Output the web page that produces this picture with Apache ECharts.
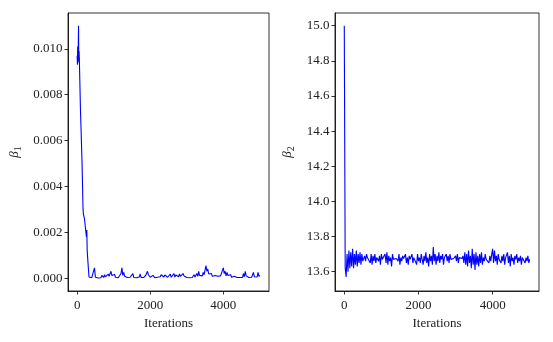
<!DOCTYPE html>
<html>
<head>
<meta charset="utf-8">
<script src="https://cdn.jsdelivr.net/npm/echarts@6/dist/echarts.min.js"></script>
<style>
  html, body { margin: 0; padding: 0; background: #fff; }
  #main { width: 553px; height: 342px; }
</style>
</head>
<body>
<div id="main"></div>
<script>
// x ticks shared by both panels
var xTicks = [0, 2000, 4000];

// beta_1 : burn-in part (irregular iterations) + regular tail
var burnIters1 = [0, 8, 15, 22, 30, 38, 45, 52, 60, 90, 135, 160, 170, 200, 240, 255, 265, 275, 300, 325];
var burnBeta1 = [0.0097, 0.0093, 0.0101, 0.0095, 0.0100, 0.0110, 0.0094, 0.0099, 0.0096, 0.0074, 0.0050, 0.0031, 0.0028, 0.0026, 0.0020, 0.0018, 0.0021, 0.0012, 0.0006, 0.00005];
var tailStart1 = 350, tailStep1 = 25;
var tailBeta1 = [
  0.00003, 0.00012, 0.00002, 0.00005, 0.00010, 0.00045,
  0.00004, 0.00002, 0.00006, 0.00001, 0.00003, 0.00008, 0.00002, 0.00012, 0.00005, 0.00003, 0.00015, 0.00006, 0.00010, 0.00004, 0.00018, 0.00008, 0.00013, 0.00030, 0.00012, 0.00020,
  0.00008, 0.00016, 0.00004, 0.00006, 0.00003, 0.00002, 0.00005, 0.00010, 0.00020, 0.00045, 0.00012, 0.00025, 0.00008, 0.00015, 0.00004, 0.00003, 0.00006, 0.00002, 0.00004, 0.00003,
  0.00002, 0.00020, 0.00003, 0.00002, 0.00004, 0.00002, 0.00003, 0.00002, 0.00005, 0.00018, 0.00003, 0.00002, 0.00004, 0.00003, 0.00008, 0.00012, 0.00006, 0.00030, 0.00015, 0.00010,
  0.00004, 0.00008, 0.00003, 0.00012, 0.00005, 0.00002, 0.00006, 0.00010, 0.00004, 0.00008, 0.00012, 0.00006, 0.00015, 0.00008, 0.00010, 0.00005, 0.00014, 0.00007, 0.00012, 0.00004,
  0.00010, 0.00006, 0.00018, 0.00004, 0.00012, 0.00008, 0.00020, 0.00005, 0.00014, 0.00010, 0.00022, 0.00006, 0.00018, 0.00008, 0.00015, 0.00005, 0.00020, 0.00010, 0.00016, 0.00004,
  0.00003, 0.00002, 0.00004, 0.00002, 0.00003, 0.00002, 0.00003, 0.00006, 0.00015, 0.00005, 0.00010, 0.00020, 0.00008, 0.00030, 0.00012, 0.00006, 0.00018, 0.00010, 0.00025, 0.00015,
  0.00035, 0.00055, 0.00030, 0.00040, 0.00018, 0.00025, 0.00010, 0.00020, 0.00008, 0.00015, 0.00005, 0.00012, 0.00006, 0.00020, 0.00008, 0.00014, 0.00004, 0.00010, 0.00006, 0.00015,
  0.00045, 0.00020, 0.00030, 0.00010, 0.00025, 0.00012, 0.00018, 0.00006, 0.00015, 0.00004, 0.00010, 0.00003, 0.00008, 0.00002, 0.00004, 0.00003, 0.00002, 0.00004, 0.00003, 0.00002,
  0.00008, 0.00003, 0.00020, 0.00006, 0.00030, 0.00010, 0.00004, 0.00012, 0.00003, 0.00005, 0.00002, 0.00004, 0.00010, 0.00025, 0.00006, 0.00003, 0.00012, 0.00005, 0.00025, 0.00008,
  0.00012
];
var yTicks1 = [0, 0.002, 0.004, 0.006, 0.008, 0.010];

// beta_2
var burnIters2 = [0, 25];
var burnBeta2 = [15.0, 13.62];
var tailStart2 = 50, tailStep2 = 25;
var tailBeta2 = [
  13.57, 13.70, 13.60, 13.72, 13.62, 13.71, 13.63, 13.73, 13.62, 13.70, 13.64, 13.72, 13.63, 13.70, 13.65, 13.71, 13.64, 13.70, 13.66,
  13.67, 13.69, 13.66, 13.70, 13.68, 13.67, 13.68, 13.65, 13.70, 13.64, 13.69, 13.66, 13.70, 13.65, 13.68, 13.67, 13.66, 13.69, 13.64, 13.70,
  13.67, 13.68, 13.67, 13.70, 13.65, 13.71, 13.64, 13.69, 13.66, 13.68, 13.63, 13.70, 13.67, 13.68, 13.675, 13.675, 13.68, 13.66, 13.70, 13.64,
  13.68, 13.66, 13.69, 13.675, 13.675, 13.70, 13.65, 13.68, 13.64, 13.69, 13.67, 13.66, 13.70, 13.65, 13.68, 13.67, 13.69, 13.64, 13.70, 13.66,
  13.68, 13.65, 13.70, 13.67, 13.64, 13.69, 13.66, 13.71, 13.65, 13.68, 13.63, 13.70, 13.66, 13.69, 13.64, 13.74, 13.66, 13.70, 13.64, 13.69,
  13.66, 13.71, 13.65, 13.69, 13.67, 13.70, 13.64, 13.68, 13.675, 13.70, 13.66, 13.69, 13.65, 13.70, 13.67, 13.68, 13.675, 13.675, 13.67, 13.69,
  13.66, 13.70, 13.65, 13.68, 13.67, 13.675, 13.675, 13.69, 13.65, 13.71, 13.64, 13.70, 13.63, 13.72, 13.65, 13.69, 13.62, 13.73, 13.64, 13.70,
  13.61, 13.71, 13.64, 13.69, 13.63, 13.70, 13.65, 13.71, 13.64, 13.68, 13.66, 13.70, 13.67, 13.675, 13.68, 13.65, 13.69, 13.66, 13.70, 13.73,
  13.65, 13.72, 13.66, 13.69, 13.64, 13.70, 13.67, 13.68, 13.65, 13.69, 13.66, 13.70, 13.64, 13.68, 13.67, 13.71, 13.65, 13.69, 13.63, 13.70,
  13.66, 13.68, 13.64, 13.69, 13.67, 13.70, 13.65, 13.68, 13.66, 13.69, 13.64, 13.68, 13.67, 13.69, 13.65, 13.68, 13.66, 13.69, 13.65, 13.67
];
var yTicks2 = [13.6, 13.8, 14.0, 14.2, 14.4, 14.6, 14.8, 15.0];

function trace(burnIters, burnVals, start, step, tail) {
    var pts = [];
    for (var i = 0; i < burnIters.length; i++) pts.push([burnIters[i], burnVals[i]]);
    for (var j = 0; j < tail.length; j++) pts.push([start + j * step, tail[j]]);
    return pts;
}

var font = 'Liberation Serif';
var txt = { color: '#222', fontFamily: font, fontSize: 13 };

function xAxis(idx) {
    return {
        type: 'value', gridIndex: idx, min: -250, max: 5250,
        name: 'Iterations', nameLocation: 'middle', nameGap: 26,
        nameTextStyle: { color: '#222', fontFamily: font, fontSize: 13 },
        axisLine: { show: true, onZero: false, lineStyle: { color: '#000', width: 0.8 } },
        axisTick: { show: true, length: 3.5, lineStyle: { color: '#000', width: 0.8 }, customValues: xTicks },
        axisLabel: Object.assign({
            margin: 8, customValues: xTicks,
            formatter: function (v) { return String(v); }
        }, txt),
        splitLine: { show: false }
    };
}

function yAxis(idx, min, max, ticks, digits, sub, gap) {
    return {
        type: 'value', gridIndex: idx, min: min, max: max,
        name: '{b|β}{s|' + sub + '}', nameLocation: 'middle', nameGap: gap,
        nameTextStyle: {
            rich: {
                b: { color: '#222', fontFamily: font, fontSize: 13, fontStyle: 'italic' },
                s: { color: '#222', fontFamily: font, fontSize: 10, verticalAlign: 'bottom', padding: [6, 0, 0, 0] }
            }
        },
        axisLine: { show: true, onZero: false, lineStyle: { color: '#000', width: 0.8 } },
        axisTick: { show: true, length: 3.5, lineStyle: { color: '#000', width: 0.8 }, customValues: ticks },
        axisLabel: Object.assign({
            margin: 5.5, customValues: ticks,
            formatter: function (v) { return v.toFixed(digits); }
        }, txt),
        splitLine: { show: false }
    };
}

var myChart = echarts.init(document.getElementById('main'));
myChart.setOption({
    animation: false,
    backgroundColor: '#fff',
    grid: [
        { left: 68, right: 284, top: 13, bottom: 51, show: true, borderColor: '#000', borderWidth: 0.8 },
        { left: 335, right: 14, top: 13, bottom: 51, show: true, borderColor: '#000', borderWidth: 0.8 }
    ],
    xAxis: [xAxis(0), xAxis(1)],
    yAxis: [
        yAxis(0, -0.00056, 0.01156, yTicks1, 3, '1', 45),
        yAxis(1, 13.49, 15.072, yTicks2, 1, '2', 39)
    ],
    series: [
        {
            type: 'line', xAxisIndex: 0, yAxisIndex: 0, symbol: 'none',
            lineStyle: { color: '#0000ff', width: 1.1 },
            data: trace(burnIters1, burnBeta1, tailStart1, tailStep1, tailBeta1)
        },
        {
            type: 'line', xAxisIndex: 1, yAxisIndex: 1, symbol: 'none',
            lineStyle: { color: '#0000ff', width: 1.1 },
            data: trace(burnIters2, burnBeta2, tailStart2, tailStep2, tailBeta2)
        }
    ]
});
</script>
</body>
</html>
